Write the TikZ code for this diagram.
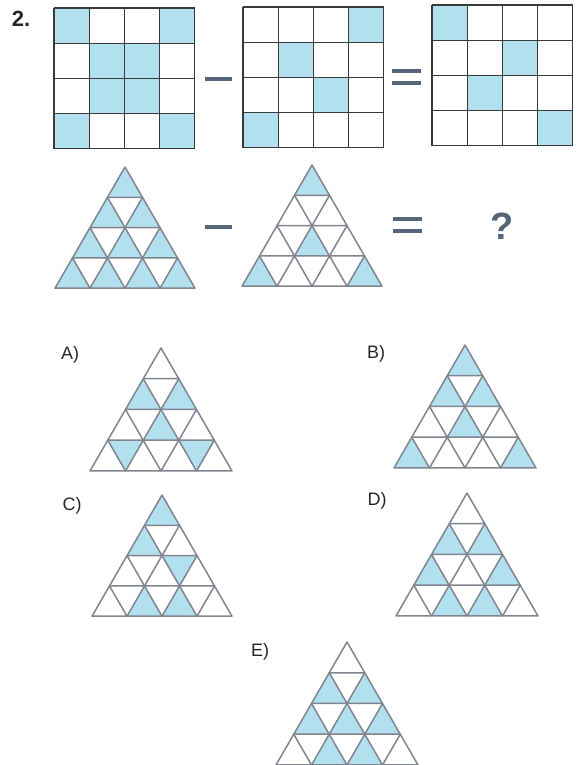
\documentclass[tikz,border=0pt]{standalone}
\usepackage{fontspec}
\setmainfont{Liberation Sans}
\usepackage{tikz}
\usetikzlibrary{positioning}
\definecolor{cellblue}{HTML}{B3E0EE}
\definecolor{gridink}{HTML}{3A3A3A}
\definecolor{triink}{HTML}{80858F}
\definecolor{signink}{HTML}{56657A}

% 4x4 square puzzle: #1,#2 = top-left corner, #3 = cell size, #4 = shaded cells col/row
\newcommand{\sqpuzzle}[4]{%
  \begin{scope}[shift={(#1,#2)}]
    \foreach \c/\r in {#4}
      \fill[cellblue] (\c*#3,\r*#3) rectangle ++(#3,#3);
    \foreach \i in {0,...,4} {
      \draw[gridink, line width=1.3pt] (\i*#3,0) -- (\i*#3,4*#3);
      \draw[gridink, line width=1.3pt] (0,\i*#3) -- (4*#3,\i*#3);
    }
  \end{scope}}

% triangle puzzle: #1,#2 = apex, #3 = side, #4 = shaded cells row/pos/type (0 up, 1 down)
\newcommand{\tripuzzle}[4]{%
  \begin{scope}[shift={(#1,#2)}]
    \pgfmathsetmacro{\ta}{#3/4}
    \pgfmathsetmacro{\th}{#3/4*0.866}
    \foreach \r/\k/\t in {#4} {
      \pgfmathsetmacro{\px}{-\r*\ta/2+\k*\ta}
      \pgfmathsetmacro{\py}{\r*\th}
      \ifnum\t=0
        \fill[cellblue] (\px,\py) -- ++(-\ta/2,\th) -- ++(\ta,0) -- cycle;
      \else
        \fill[cellblue] (\px,\py) -- ++(\ta,0) -- ++(-\ta/2,\th) -- cycle;
      \fi
    }
    \foreach \r in {0,...,3}
      \foreach \k in {0,...,\r} {
        \pgfmathsetmacro{\px}{-\r*\ta/2+\k*\ta}
        \pgfmathsetmacro{\py}{\r*\th}
        \draw[triink, line width=1.5pt, line join=round]
          (\px,\py) -- ++(-\ta/2,\th) -- ++(\ta,0) -- cycle;
      }
  \end{scope}}

\begin{document}
\begin{tikzpicture}[
  x=1pt, y=-1pt,
  optlabel/.style={font=\fontsize{18}{20}\selectfont, text=black!85},
]
  \useasboundingbox (0,0) rectangle (581,765);
  \fill[white] (0,0) rectangle (581,765);

  \node[font=\fontsize{22}{24}\selectfont\bfseries, text=black!85] (num) at (21,19) {2.};

  % top row: squares
  \sqpuzzle{54}{8}{35.2}{0/0, 3/0, 1/1, 2/1, 1/2, 2/2, 0/3, 3/3}
  \sqpuzzle{243}{7}{35.2}{3/0, 1/1, 2/2, 0/3}
  \sqpuzzle{432}{5}{35.2}{0/0, 2/1, 1/2, 3/3}
  \fill[signink] (205,77) rectangle (232,81);
  \fill[signink] (392,69) rectangle (421,73);
  \fill[signink] (392,81) rectangle (421,85);

  % second row: triangles
  \tripuzzle{125}{167}{140}{0/0/0, 1/0/0, 1/1/0, 2/0/0, 2/1/0, 2/2/0,
                            3/0/0, 3/1/0, 3/2/0, 3/3/0}
  \tripuzzle{312}{165}{140}{0/0/0, 2/1/0, 3/0/0, 3/3/0}
  \fill[signink] (205,225) rectangle (232,229);
  \fill[signink] (393,217) rectangle (422,221);
  \fill[signink] (393,229) rectangle (422,233);
  \node[font=\fontsize{38}{40}\selectfont\bfseries, text=signink] (ask) at (502,226) {?};

  % answer options
  \node[optlabel] (labA) at (70,355) {A)};
  \tripuzzle{161}{348}{142}{1/0/0, 1/1/0, 2/1/0, 3/0/1, 3/2/1}
  \node[optlabel] (labB) at (376,354) {B)};
  \tripuzzle{465}{345}{142}{0/0/0, 1/0/0, 1/1/0, 2/1/0, 3/0/0, 3/3/0}
  \node[optlabel] (labC) at (72,506) {C)};
  \tripuzzle{162}{495}{140}{0/0/0, 1/0/0, 2/1/1, 3/1/0, 3/2/0}
  \node[optlabel] (labD) at (377,501) {D)};
  \tripuzzle{467}{493}{142}{1/0/0, 1/1/0, 2/0/0, 2/2/0, 3/1/0, 3/2/0}
  \node[optlabel] (labE) at (260,652) {E)};
  \tripuzzle{347}{642}{142}{1/0/0, 1/1/0, 2/0/0, 2/1/0, 2/2/0, 3/1/0, 3/2/0}
\end{tikzpicture}
\end{document}
